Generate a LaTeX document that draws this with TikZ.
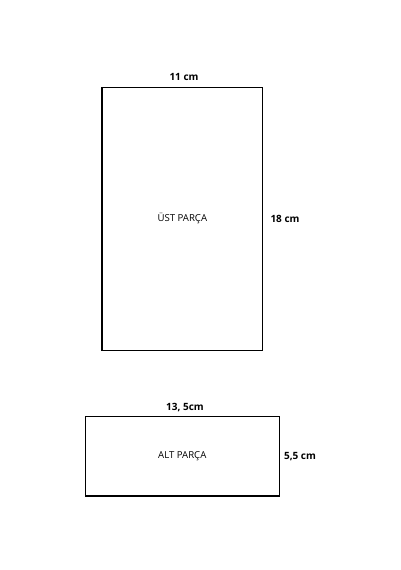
\documentclass[tikz,border=0pt]{standalone}
\usepackage{fontspec}
\setmainfont{Open Sans}
\newlength{\du}
\setlength{\du}{1pt}
\tikzset{
  piece/.style={draw=black, fill=white, line width=1.3\du, inner sep=0pt,
    font=\fontsize{9.6}{11}\selectfont},
  dimlabel/.style={anchor=center, inner sep=0pt, font=\bfseries\fontsize{10}{12}\selectfont}
}
\begin{document}
\begin{tikzpicture}
\pgftransformxscale{1.000000}
\pgftransformyscale{-1.000000}
\useasboundingbox (0\du,0\du) rectangle (400\du,570\du);
% ust parca
\node[piece, minimum width=160.7\du, minimum height=263.0\du] (ust) at (182.350000\du,218.800000\du){ÜST PARÇA};
\node[dimlabel] (ustw) at (184.000000\du,77.000000\du){11 cm};
\node[dimlabel] (usth) at (285.000000\du,218.700000\du){18 cm};
% alt parca
\node[piece, minimum width=194.0\du, minimum height=79.3\du] (alt) at (182.300000\du,456.350000\du){ALT PARÇA};
\node[dimlabel] (altw) at (185.000000\du,408.000000\du){13, 5cm};
\node[dimlabel] (alth) at (300.000000\du,456.700000\du){5,5 cm};
\end{tikzpicture}
\end{document}
